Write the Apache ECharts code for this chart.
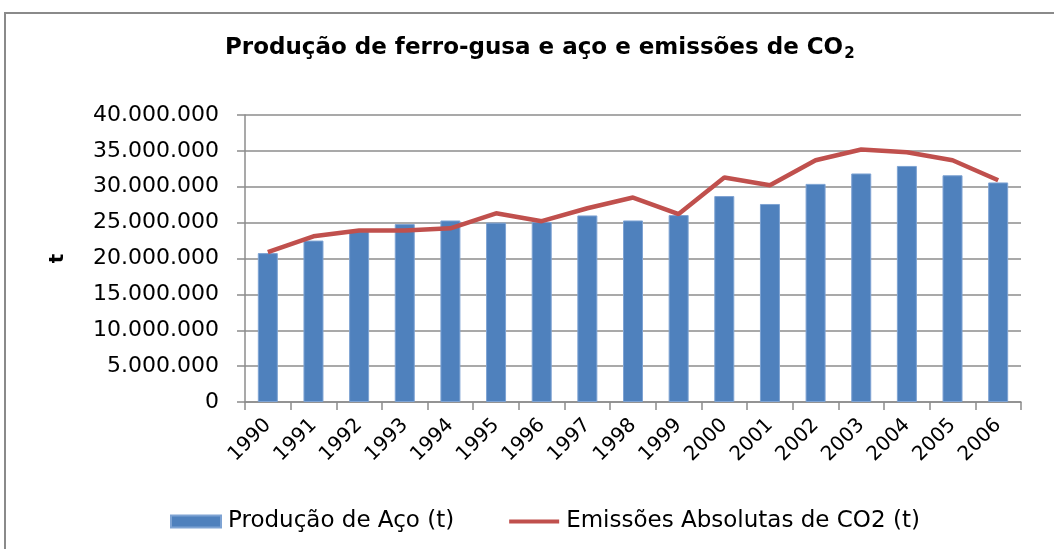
<!DOCTYPE html>
<html>
<head>
<meta charset="utf-8">
<script src="https://cdn.jsdelivr.net/npm/echarts@6/dist/echarts.min.js"></script>
<style>
  html, body { margin: 0; padding: 0; background: #fff; }
  #chart { width: 1054px; height: 549px; }
</style>
</head>
<body>
<div id="chart"></div>
<script>
const years = ['1990', '1991', '1992', '1993', '1994', '1995', '1996', '1997', '1998',
  '1999', '2000', '2001', '2002', '2003', '2004', '2005', '2006']
// Produção de Aço (t)
const producaoAco = [20.75, 22.5, 23.8, 24.8, 25.3, 25.0, 25.1, 26.0, 25.3,
  26.05, 28.7, 27.6, 30.4, 31.85, 32.9, 31.6, 30.6].map((v) => v * 1e6)
// Emissões Absolutas de CO2 (t)
const emissoesCO2 = [20.9, 23.1, 23.9, 23.9, 24.2, 26.3, 25.2, 27.0, 28.5,
  26.2, 31.3, 30.2, 33.7, 35.2, 34.8, 33.7, 30.9].map((v) => v * 1e6)

const gridColor = '#8c8c8c'
const fontFamily = '"DejaVu Sans", sans-serif'

function thousands(v) {
  return String(v).replace(/\B(?=(\d{3})+(?!\d))/g, '.')
}

const myChart = echarts.init(document.getElementById('chart'))
const option = {
  backgroundColor: '#fff',
  animation: false,
  textStyle: { fontFamily },
  title: {
    text: 'Produção de ferro-gusa e aço e emissões de CO{sub|2}',
    left: 220,
    top: 30,
    textStyle: {
      fontSize: 23,
      fontWeight: 'bold',
      color: '#000',
      rich: {
        sub: { fontSize: 15, fontWeight: 'bold', color: '#000', padding: [12, 0, 0, 1] },
      },
    },
  },
  legend: {
    bottom: 11,
    left: 165,
    itemGap: 55,
    itemWidth: 50,
    itemHeight: 12,
    textStyle: { fontSize: 23, color: '#000', padding: [0, 0, 0, 2] },
    data: [
      { name: 'Produção de Aço (t)', icon: 'rect' },
      {
        name: 'Emissões Absolutas de CO2 (t)',
        icon: 'path://M0,4 L50,4 L50,8 L0,8 Z',
        itemStyle: { color: '#C0504D' },
      },
    ],
  },
  grid: {
    left: 245,
    right: 33,
    top: 115,
    bottom: 147,
  },
  xAxis: {
    type: 'category',
    data: years,
    boundaryGap: true,
    axisLine: { lineStyle: { color: gridColor, width: 1.5 } },
    axisTick: { show: true, length: 8, lineStyle: { color: gridColor, width: 1.5 } },
    axisLabel: {
      rotate: 45,
      interval: 0,
      margin: 20,
      fontSize: 20,
      color: '#000',
    },
  },
  yAxis: {
    type: 'value',
    min: 0,
    max: 40000000,
    interval: 5000000,
    name: 't',
    nameLocation: 'middle',
    nameGap: 177,
    nameTextStyle: { fontSize: 20, fontWeight: 'bold', color: '#000' },
    axisLine: { show: true, lineStyle: { color: gridColor, width: 1.5 } },
    axisTick: { show: true, length: 8, lineStyle: { color: gridColor, width: 1.5 } },
    axisLabel: {
      fontSize: 22,
      color: '#000',
      margin: 26,
      formatter: thousands,
    },
    splitLine: { show: true, lineStyle: { color: gridColor, width: 1.5 } },
  },
  series: [
    {
      name: 'Produção de Aço (t)',
      type: 'bar',
      data: producaoAco,
      barWidth: 20,
      itemStyle: { color: '#4F81BD', borderColor: '#7ea3d3', borderWidth: 1 },
    },
    {
      name: 'Emissões Absolutas de CO2 (t)',
      type: 'line',
      data: emissoesCO2,
      symbol: 'none',
      lineStyle: { color: '#C0504D', width: 4.5 },
      itemStyle: { color: '#C0504D' },
    },
  ],
  graphic: [
    {
      type: 'polyline',
      shape: { points: [[5, 560], [5, 13], [1070, 13]] },
      style: { stroke: '#8a8a8a', lineWidth: 2, fill: null },
      silent: true,
    },
  ],
}
myChart.setOption(option, true)
</script>
</body>
</html>
